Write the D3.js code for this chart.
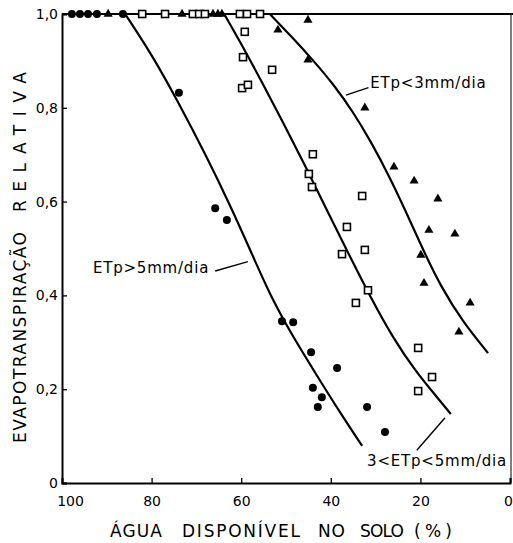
<!DOCTYPE html>
<html>
<head>
<meta charset="utf-8">
<script src="https://cdn.jsdelivr.net/npm/d3@7"></script>
<style>
  body { margin: 0; background: #fff; }
  svg { display: block; font-family: 'DejaVu Sans', sans-serif; }
</style>
</head>
<body>
<svg id="chart" width="513" height="543"></svg>
<script>
// eixos
const xTicks = [100, 80, 60, 40, 20, 0];
const xTickLabels = ['100', '80', '60', '40', '20', '0'];
const yTicks = [0, 0.2, 0.4, 0.6, 0.8, 1.0];
const yTickLabels = ['0', '0,2', '0,4', '0,6', '0,8', '1,0'];

// curvas ajustadas (água disponível %, ET relativa)
const curveHigh = [[85.9, 1.0], [79.9, 0.913], [73.7, 0.806], [67.9, 0.699], [62.5, 0.593],
  [57.8, 0.493], [53.4, 0.397], [48.4, 0.311], [42.9, 0.226], [38.0, 0.151], [33.0, 0.079]];
const curveMid = [[63.8, 1.0], [59.6, 0.930], [55.4, 0.855], [50.7, 0.770], [45.8, 0.678],
  [40.9, 0.582], [35.9, 0.486], [31.0, 0.394], [26.1, 0.309], [21.0, 0.237], [16.3, 0.183],
  [13.2, 0.147]];
const curveLow = [[53.6, 1.0], [48.9, 0.953], [44.0, 0.902], [39.3, 0.849], [35.0, 0.791],
  [31.0, 0.727], [27.0, 0.655], [23.2, 0.578], [19.4, 0.497], [15.4, 0.418], [10.5, 0.343],
  [4.9, 0.277]];

// observações
const pointsHigh = [[97.8, 1.0], [96.0, 1.0], [94.2, 1.0], [92.2, 1.0], [86.4, 1.0],
  [73.9, 0.832], [65.8, 0.586], [63.2, 0.561], [50.9, 0.345], [48.4, 0.343],
  [44.4, 0.279], [38.6, 0.245], [44.0, 0.203], [42.0, 0.183], [42.9, 0.162],
  [31.9, 0.162], [27.9, 0.109]];
const pointsMid = [[82.1, 1.0], [77.0, 1.0], [70.8, 1.0], [69.4, 1.0], [68.1, 1.0],
  [60.3, 1.0], [58.7, 1.0], [55.8, 1.0],
  [59.2, 0.962], [59.6, 0.908], [59.8, 0.842], [58.5, 0.849], [53.1, 0.881],
  [44.0, 0.701], [44.9, 0.659], [44.2, 0.631], [33.0, 0.612], [36.4, 0.546],
  [32.4, 0.497], [37.5, 0.488], [31.7, 0.411], [34.4, 0.384],
  [20.5, 0.288], [17.4, 0.226], [20.5, 0.196]];
const pointsLow = [[89.7, 1.0], [73.2, 1.0], [66.3, 1.0], [65.2, 1.0], [64.3, 1.0],
  [45.1, 0.987], [51.8, 0.966], [45.1, 0.902], [32.4, 0.80], [25.9, 0.674],
  [21.4, 0.644], [16.1, 0.606], [18.1, 0.539], [12.3, 0.531], [19.9, 0.486],
  [19.2, 0.426], [8.9, 0.384], [11.4, 0.322]];

// rótulos das curvas
const curveLabels = ['ETp<3mm/dia', 'ETp>5mm/dia', '3<ETp<5mm/dia'];
const labelAnchors = [[31.2, 0.842], [93.1, 0.448], [31.9, 0.036]];
const leaders = [
  [[36.6, 0.827], [31.6, 0.843]],
  [[65.8, 0.452], [58.5, 0.472]],
  [[20.8, 0.070], [14.5, 0.139]]
];

// título do eixo x, palavra a palavra
const xTitleWords = ['ÁGUA', 'DISPONÍVEL', 'NO', 'SOLO', '(%)'];
const xTitleStarts = [110, 182, 318, 360, 414];
const xTitleLengths = [52, 118, 27, 44, 38];

const svg = d3.select('#chart');

const x = d3.scaleLinear().domain([100, 0]).range([62, 510]);
const y = d3.scaleLinear().domain([0, 1]).range([483, 14]);

// moldura: topo grosso, lado direito fino
svg.append('line')
  .attr('x1', x(100)).attr('x2', 513)
  .attr('y1', y(1)).attr('y2', y(1))
  .attr('stroke', '#000').attr('stroke-width', 2);
svg.append('line')
  .attr('x1', x(0) + 1).attr('x2', x(0) + 1)
  .attr('y1', y(1)).attr('y2', y(0))
  .attr('stroke', '#000').attr('stroke-width', 1);

// eixos
const xAxis = svg.append('g')
  .attr('transform', `translate(0,${y(0)})`)
  .call(d3.axisBottom(x).tickValues(xTicks).tickSize(-5).tickPadding(13)
    .tickFormat((d, i) => xTickLabels[i]));
const yAxis = svg.append('g')
  .attr('transform', `translate(${x(100)},0)`)
  .call(d3.axisLeft(y).tickValues(yTicks).tickSize(-5).tickPadding(4)
    .tickFormat((d, i) => yTickLabels[i]));

[xAxis, yAxis].forEach((g) => {
  g.select('.domain').attr('stroke-width', 2);
  g.selectAll('.tick line').attr('stroke-width', 1.3);
  g.selectAll('.tick text')
    .style('font-family', "'DejaVu Sans', sans-serif")
    .style('font-size', '14px').attr('fill', '#000');
});
xAxis.selectAll('.tick text').filter((d) => d === 100).attr('dx', 8);
xAxis.selectAll('.tick text').filter((d) => d === 0).attr('dx', -2);

// curvas
const line = d3.line()
  .x((d) => x(d[0]))
  .y((d) => y(d[1]))
  .curve(d3.curveBasis);

[curveHigh, curveMid, curveLow].forEach((c) => {
  svg.append('path')
    .attr('d', line(c))
    .attr('fill', 'none')
    .attr('stroke', '#000')
    .attr('stroke-width', 2.2);
});

// pontos
svg.selectAll('.pt-high')
  .data(pointsHigh)
  .enter()
  .append('circle')
  .attr('class', 'pt-high')
  .attr('cx', (d) => x(d[0]))
  .attr('cy', (d) => y(d[1]))
  .attr('r', 4)
  .attr('fill', '#000');

svg.selectAll('.pt-mid')
  .data(pointsMid)
  .enter()
  .append('rect')
  .attr('class', 'pt-mid')
  .attr('x', (d) => x(d[0]) - 3.5)
  .attr('y', (d) => y(d[1]) - 3.5)
  .attr('width', 7)
  .attr('height', 7)
  .attr('fill', '#fff')
  .attr('stroke', '#000')
  .attr('stroke-width', 1.6);

svg.selectAll('.pt-low')
  .data(pointsLow)
  .enter()
  .append('path')
  .attr('class', 'pt-low')
  .attr('d', d3.symbol().type(d3.symbolTriangle).size(36))
  .attr('transform', (d) => `translate(${x(d[0])},${y(d[1])})`)
  .attr('fill', '#000');

// rótulos e linhas de chamada
const leaderLine = d3.line().x((d) => x(d[0])).y((d) => y(d[1]));
leaders.forEach((l) => {
  svg.append('path')
    .attr('d', leaderLine(l))
    .attr('fill', 'none')
    .attr('stroke', '#000')
    .attr('stroke-width', 1.4);
});

svg.selectAll('.curve-label')
  .data(curveLabels)
  .enter()
  .append('text')
  .attr('class', 'curve-label')
  .attr('x', (d, i) => x(labelAnchors[i][0]))
  .attr('y', (d, i) => y(labelAnchors[i][1]))
  .style('font-size', '15px')
  .style('letter-spacing', '0.8px')
  .text((d) => d);

// títulos dos eixos
svg.selectAll('.x-title')
  .data(xTitleWords)
  .enter()
  .append('text')
  .attr('class', 'x-title')
  .attr('x', (d, i) => xTitleStarts[i])
  .attr('y', 537)
  .attr('textLength', (d, i) => xTitleLengths[i])
  .attr('lengthAdjust', 'spacing')
  .style('font-size', '17px')
  .text((d) => d);

svg.append('text')
  .attr('transform', 'translate(26,443) rotate(-90)')
  .attr('textLength', 211)
  .attr('lengthAdjust', 'spacing')
  .style('font-size', '17px')
  .text('EVAPOTRANSPIRAÇÃO');

svg.append('text')
  .attr('transform', 'translate(26,212) rotate(-90)')
  .attr('textLength', 140)
  .attr('lengthAdjust', 'spacing')
  .style('font-size', '17px')
  .text('RELATIVA');
</script>
</body>
</html>
